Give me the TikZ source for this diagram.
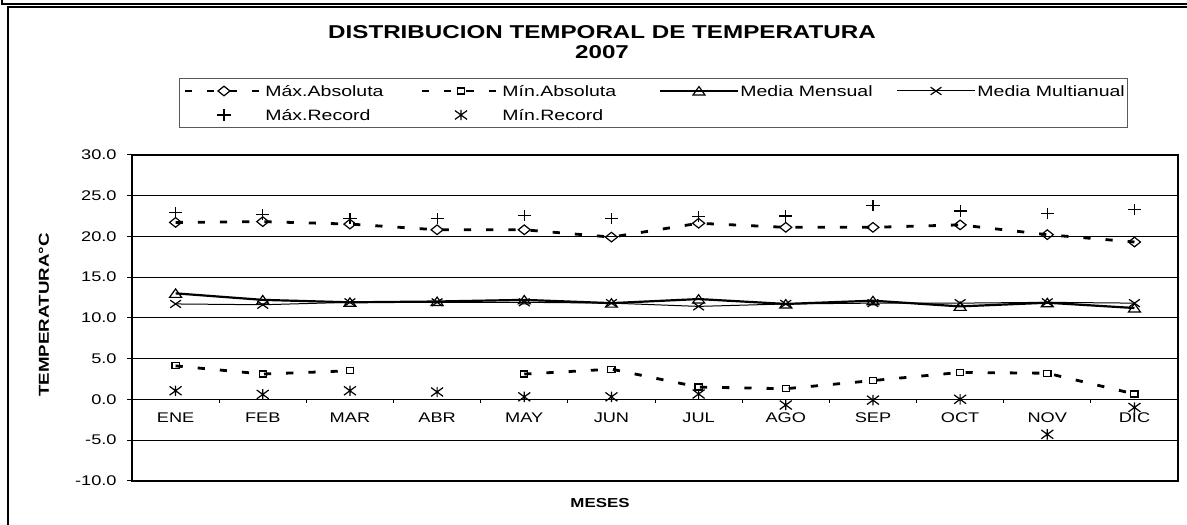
\documentclass[tikz,border=0pt]{standalone}
\usepackage{fontspec}
\setmainfont{Liberation Sans}[FakeStretch=1.3]
\usepackage{tikz}
\usetikzlibrary{calc}
% marcadores, 1 parámetro: el punto
\newcommand\mkrombo[1]{\draw[marca] (#1) ++(-3pt,0) -- ++(3pt,2.4pt) -- ++(3pt,-2.4pt) -- ++(-3pt,-2.4pt) -- cycle;}
\newcommand\mkcuadro[1]{\draw[marca] (#1) ++(-1.8pt,-1.5pt) rectangle ++(3.6pt,3pt);}
\newcommand\mktriang[1]{\draw[marca] (#1) ++(0,2.2pt) -- ++(3pt,-4.2pt) -- ++(-6pt,0) -- cycle;}
\newcommand\mkequis[1]{\draw[marca] (#1) ++(-2.7pt,-1.9pt) -- ++(5.4pt,3.8pt) ++(0,-3.8pt) -- ++(-5.4pt,3.8pt);}
\newcommand\mkmas[1]{\draw[marca] (#1) ++(-3.3pt,0) -- ++(6.6pt,0) (#1) ++(0,-2.8pt) -- ++(0,5.6pt);}
\newcommand\mkast[1]{\draw[marca] (#1) ++(-3pt,-2.2pt) -- ++(6pt,4.4pt) ++(0,-4.4pt) -- ++(-6pt,4.4pt) (#1) ++(0,-2.6pt) -- ++(0,5.2pt);}
% serie de datos, 2 parámetros: nombre, lista de los 12 meses
\newcommand\serie[2]{\foreach \v [count=\i] in {#2} {\coordinate (#1-\i) at (\i-0.5,\v);}}

\begin{document}
\begin{tikzpicture}[x=0.5pt, y=-0.5pt, font=\fontsize{7}{8}\selectfont,
    marca/.style={line width=0.6pt},
    discontinua/.style={line width=1.4pt, dash pattern=on 3.6pt off 7.5pt},
    gruesa/.style={line width=1.1pt},
    fina/.style={line width=0.5pt},
    rejilla/.style={line width=0.5pt},
    leyenda/.style={anchor=base west, inner sep=0pt, font=\fontsize{7.5}{9}\selectfont}]
    \useasboundingbox (0,0) rectangle (1187,524);
    \draw[line width=1pt] (1.5,0) -- (1.5,4) -- (1192,4);
    \draw[line width=1pt] (7.5,530) -- (7.5,7.5) -- (1192,7.5);
    \node[font=\bfseries\fontsize{9.3}{10}\selectfont] (titulo) at (602,32) {DISTRIBUCION TEMPORAL DE TEMPERATURA};
    \node[font=\bfseries\fontsize{9.3}{10}\selectfont] (anio) at (602,52) {2007};
    \node[font=\bfseries\fontsize{7.2}{8}\selectfont, rotate=90] (ejey) at (44,315) {TEMPERATURA°C};
    \node[font=\bfseries\fontsize{6.5}{8}\selectfont] (ejex) at (600,503) {MESES};
    % leyenda
    \draw[gray!70!black, line width=0.5pt] (179,79) rectangle (1127,127);
    \draw[discontinua] (185,91) -- (263,91); \mkrombo{224,91}
    \node[leyenda] (ley-maxa) at (265,96.4) {Máx.Absoluta};
    \draw[discontinua] (422,91) -- (500,91); \mkcuadro{461,91}
    \node[leyenda] (ley-mina) at (502,96.4) {Mín.Absoluta};
    \draw[gruesa] (660,91) -- (738,91); \mktriang{699,91}
    \node[leyenda] (ley-mens) at (740,96.4) {Media Mensual};
    \draw[fina] (897,91) -- (975,91); \mkequis{936,91}
    \node[leyenda] (ley-mult) at (977,96.4) {Media Multianual};
    \mkmas{224,115}
    \node[leyenda] (ley-maxr) at (265,120.4) {Máx.Record};
    \mkast{461,115}
    \node[leyenda] (ley-minr) at (502,120.4) {Mín.Record};
    \begin{scope}[shift={(132,399.3)}, x=43.585pt, y=4.075pt]
        \foreach \v in {-5,5,10,15,20,25} \draw[rejilla] (0,\v) -- (12,\v);
        \draw[line width=0.7pt] (0,-10) rectangle (12,30);
        \draw[line width=0.6pt] (0,0) -- (12,0);
        \foreach \i in {1,...,11} \draw[rejilla] (\i,0) -- ++(0,-2pt);
        \foreach \v/\t [count=\k] in {30/30.0,25/25.0,20/20.0,15/15.0,10/10.0,5/5.0,0/0.0,-5/-5.0,-10/-10.0} {
            \draw[rejilla] (0,\v) -- ++(-2.5pt,0);
            \node[anchor=east, inner sep=0pt] (eje-\k) at ($(0,\v)+(-7.5pt,0)$) {\t};
        }
        \foreach \m [count=\i] in {ENE,FEB,MAR,ABR,MAY,JUN,JUL,AGO,SEP,OCT,NOV,DIC}
            \node[anchor=base, inner sep=0pt] (mes-\i) at (\i-0.5,-2.9) {\m};
        % datos (ABR sin mínima absoluta)
        \serie{maxa}{21.7,21.8,21.5,20.8,20.8,19.9,21.6,21.1,21.1,21.4,20.2,19.3}
        \serie{maxr}{22.9,22.7,22.2,22.2,22.6,22.2,22.4,22.5,23.8,23.1,22.8,23.3}
        \serie{mens}{13.0,12.2,11.9,12.0,12.2,11.8,12.3,11.7,12.1,11.4,11.85,11.2}
        \serie{mult}{11.7,11.6,11.9,11.9,11.9,11.8,11.4,11.7,11.8,11.8,11.9,11.8}
        \serie{mina}{4.1,3.1,3.5,0,3.1,3.7,1.5,1.3,2.3,3.3,3.2,0.65}
        \serie{minr}{1.05,0.6,1.05,0.9,0.3,0.3,0.65,-0.7,-0.1,0.0,-4.3,-1.0}
        \draw[discontinua] (maxa-1) \foreach \i in {2,...,12} {-- (maxa-\i)};
        \draw[discontinua] (mina-1) -- (mina-2) -- (mina-3) (mina-5) \foreach \i in {6,...,12} {-- (mina-\i)};
        \draw[fina] (mult-1) \foreach \i in {2,...,12} {-- (mult-\i)};
        \draw[gruesa] (mens-1) \foreach \i in {2,...,12} {-- (mens-\i)};
        \foreach \i in {1,...,12} {
            \mkrombo{maxa-\i} \mkequis{mult-\i} \mktriang{mens-\i}
            \mkmas{maxr-\i} \mkast{minr-\i}
        }
        \foreach \i in {1,2,3,5,6,7,8,9,10,11,12} {\mkcuadro{mina-\i}}
    \end{scope}
\end{tikzpicture}
\end{document}
